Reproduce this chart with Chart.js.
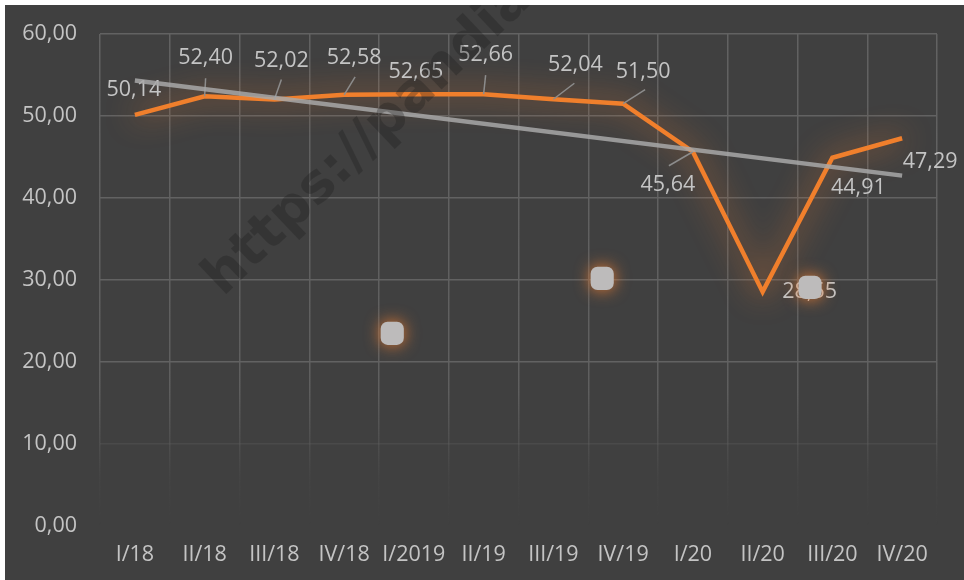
<!DOCTYPE html>
<html>
<head>
<meta charset="utf-8">
<script src="https://cdn.jsdelivr.net/npm/chart.js@4/dist/chart.umd.min.js"></script>
<style>
  html, body { margin: 0; padding: 0; background: #ffffff; }
  #wrap { position: absolute; left: 5px; top: 5px; width: 959px; height: 575px; background: #404040; }
</style>
</head>
<body>
<div id="wrap"><canvas id="quarterChart" width="959" height="575"></canvas></div>
<script>
// Quarters on the x axis
const quarters = ["I/18", "II/18", "III/18", "IV/18", "I/2019", "II/19", "III/19", "IV/19", "I/20", "II/20", "III/20", "IV/20"];

// Main orange series
const mainValues = [50.14, 52.40, 52.02, 52.58, 52.65, 52.66, 52.04, 51.50, 45.64, 28.55, 44.91, 47.29];

// Grey square markers, x as fractional category index
const markerX = [3.69, 6.70, 9.68];
const markerY = [23.5, 30.2, 29.1];

// Linear trend line, only its two ends
const trendValues = [54.34, null, null, null, null, null, null, null, null, null, null, 42.73];

// Y axis ticks
const yTicks = [0, 10, 20, 30, 40, 50, 60];

const textColor = "#c4c4c4";
const fontFamily = "'Open Sans', Lato, sans-serif";

// label offsets from each point: [dx, dy, leaderStartDx, leaderStartDy] (null = no leader)
const labelPlacement = [
    [-1, -25, null, null],
    [1, -38, 1, -18],
    [7, -39, 7, -20],
    [10, -37, 11, -18],
    [2, -22, null, null],
    [2, -39, 2, -19],
    [22, -34, 21, -16],
    [20, -32, 22, -14],
    [-25, 33, -24, 14],
    [47, 0, null, null],
    [26, 30, null, null],
    [28, 24, null, null]
];

const fmt = v => v.toFixed(2).replace(".", ",");

function drawLabels(chart) {
    const ctx = chart.ctx;
    const meta = chart.getDatasetMeta(0);
    ctx.save();
    ctx.font = "21.5px " + fontFamily;
    ctx.fillStyle = textColor;
    ctx.textAlign = "center";
    ctx.textBaseline = "middle";
    meta.data.forEach((pt, i) => {
        const p = labelPlacement[i];
        if (p[2] !== null) {
            ctx.strokeStyle = "#8c8c8c";
            ctx.lineWidth = 1.5;
            ctx.beginPath();
            ctx.moveTo(pt.x + p[2], pt.y + p[3]);
            ctx.lineTo(pt.x, pt.y);
            ctx.stroke();
        }
        ctx.fillText(fmt(mainValues[i]), pt.x + p[0], pt.y + p[1]);
    });
    ctx.restore();
}

// glow around the orange line and the squares, labels right after the orange line
const glowPlugin = {
    id: "glow",
    beforeDatasetDraw(chart, args) {
        const ds = chart.data.datasets[args.index];
        if (!ds.glow) return;
        const ctx = chart.ctx;
        ctx.save();
        ctx.shadowColor = "rgba(237, 125, 49, 0.95)";
        ctx.shadowBlur = ds.glow;
    },
    afterDatasetDraw(chart, args) {
        const ds = chart.data.datasets[args.index];
        if (ds.glow) chart.ctx.restore();
        if (args.index === 0) drawLabels(chart);
    },
    afterDraw(chart) {
        // faint watermark
        const ctx = chart.ctx;
        ctx.save();
        ctx.translate(218, 292);
        ctx.rotate(-0.76);
        ctx.font = "bold 54px 'DejaVu Sans', sans-serif";
        ctx.fillStyle = "rgba(25, 25, 25, 0.3)";
        ctx.textBaseline = "alphabetic";
        ctx.fillText("https://pandia.ru", 0, 0);
        ctx.restore();
    }
};

function xGridColor(c) {
    const area = c.chart.chartArea;
    if (!area) return "#5a5a5a";
    const g = c.chart.ctx.createLinearGradient(0, area.top, 0, area.bottom);
    g.addColorStop(0, "rgba(98,98,98,1)");
    g.addColorStop(0.72, "rgba(98,98,98,0.9)");
    g.addColorStop(0.9, "rgba(98,98,98,0.12)");
    g.addColorStop(1, "rgba(98,98,98,0)");
    return g;
}

const ctx = document.getElementById("quarterChart").getContext("2d");
new Chart(ctx, {
    type: "line",
    data: {
        labels: quarters,
        datasets: [
            {
                label: "Series",
                data: mainValues,
                borderColor: "#f07f2c",
                borderWidth: 4.5,
                pointRadius: 0,
                tension: 0,
                glow: 30,
                order: 2
            },
            {
                label: "Markers",
                data: markerX.map((x, i) => ({ x: x, y: markerY[i] })),
                xAxisID: "xm",
                showLine: false,
                pointStyle: "rectRounded",
                pointRadius: 13.5,
                pointBackgroundColor: "#bdbbbb",
                pointBorderColor: "#bdbbbb",
                pointBorderWidth: 0,
                glow: 16,
                order: 1
            },
            {
                label: "Trend",
                data: trendValues,
                spanGaps: true,
                borderColor: "rgba(168,168,168,0.85)",
                borderWidth: 4.5,
                pointRadius: 0,
                order: 0
            }
        ]
    },
    options: {
        responsive: false,
        animation: false,
        layout: { padding: { top: 29, right: 27, left: 0, bottom: 0 } },
        plugins: {
            legend: { display: false },
            tooltip: { enabled: false }
        },
        scales: {
            x: {
                offset: true,
                grid: { offset: true, color: xGridColor, lineWidth: 1.5, drawTicks: false },
                border: { display: false },
                ticks: { color: textColor, font: { family: fontFamily, size: 21.5 }, padding: 16, maxRotation: 0, autoSkip: false },
                afterFit: s => { s.height = 54; s.paddingLeft = 0; s.paddingRight = 0; }
            },
            xm: {
                type: "linear",
                display: false,
                min: -0.5,
                max: 11.5
            },
            y: {
                min: 0,
                max: 60,
                afterBuildTicks: s => { s.ticks = yTicks.map(v => ({ value: v })); },
                grid: {
                    drawTicks: false,
                    lineWidth: 1.5,
                    color: c => c.tick.value === 0 ? "rgba(0,0,0,0)" : (c.tick.value === 10 ? "rgba(98,98,98,0.3)" : "#626262")
                },
                border: { display: false },
                ticks: { color: textColor, font: { family: fontFamily, size: 21.5 }, padding: 23, callback: v => fmt(v) },
                afterFit: s => { s.width = 95; s.paddingTop = 0; s.paddingBottom = 0; }
            }
        }
    },
    plugins: [glowPlugin]
});
</script>
</body>
</html>
